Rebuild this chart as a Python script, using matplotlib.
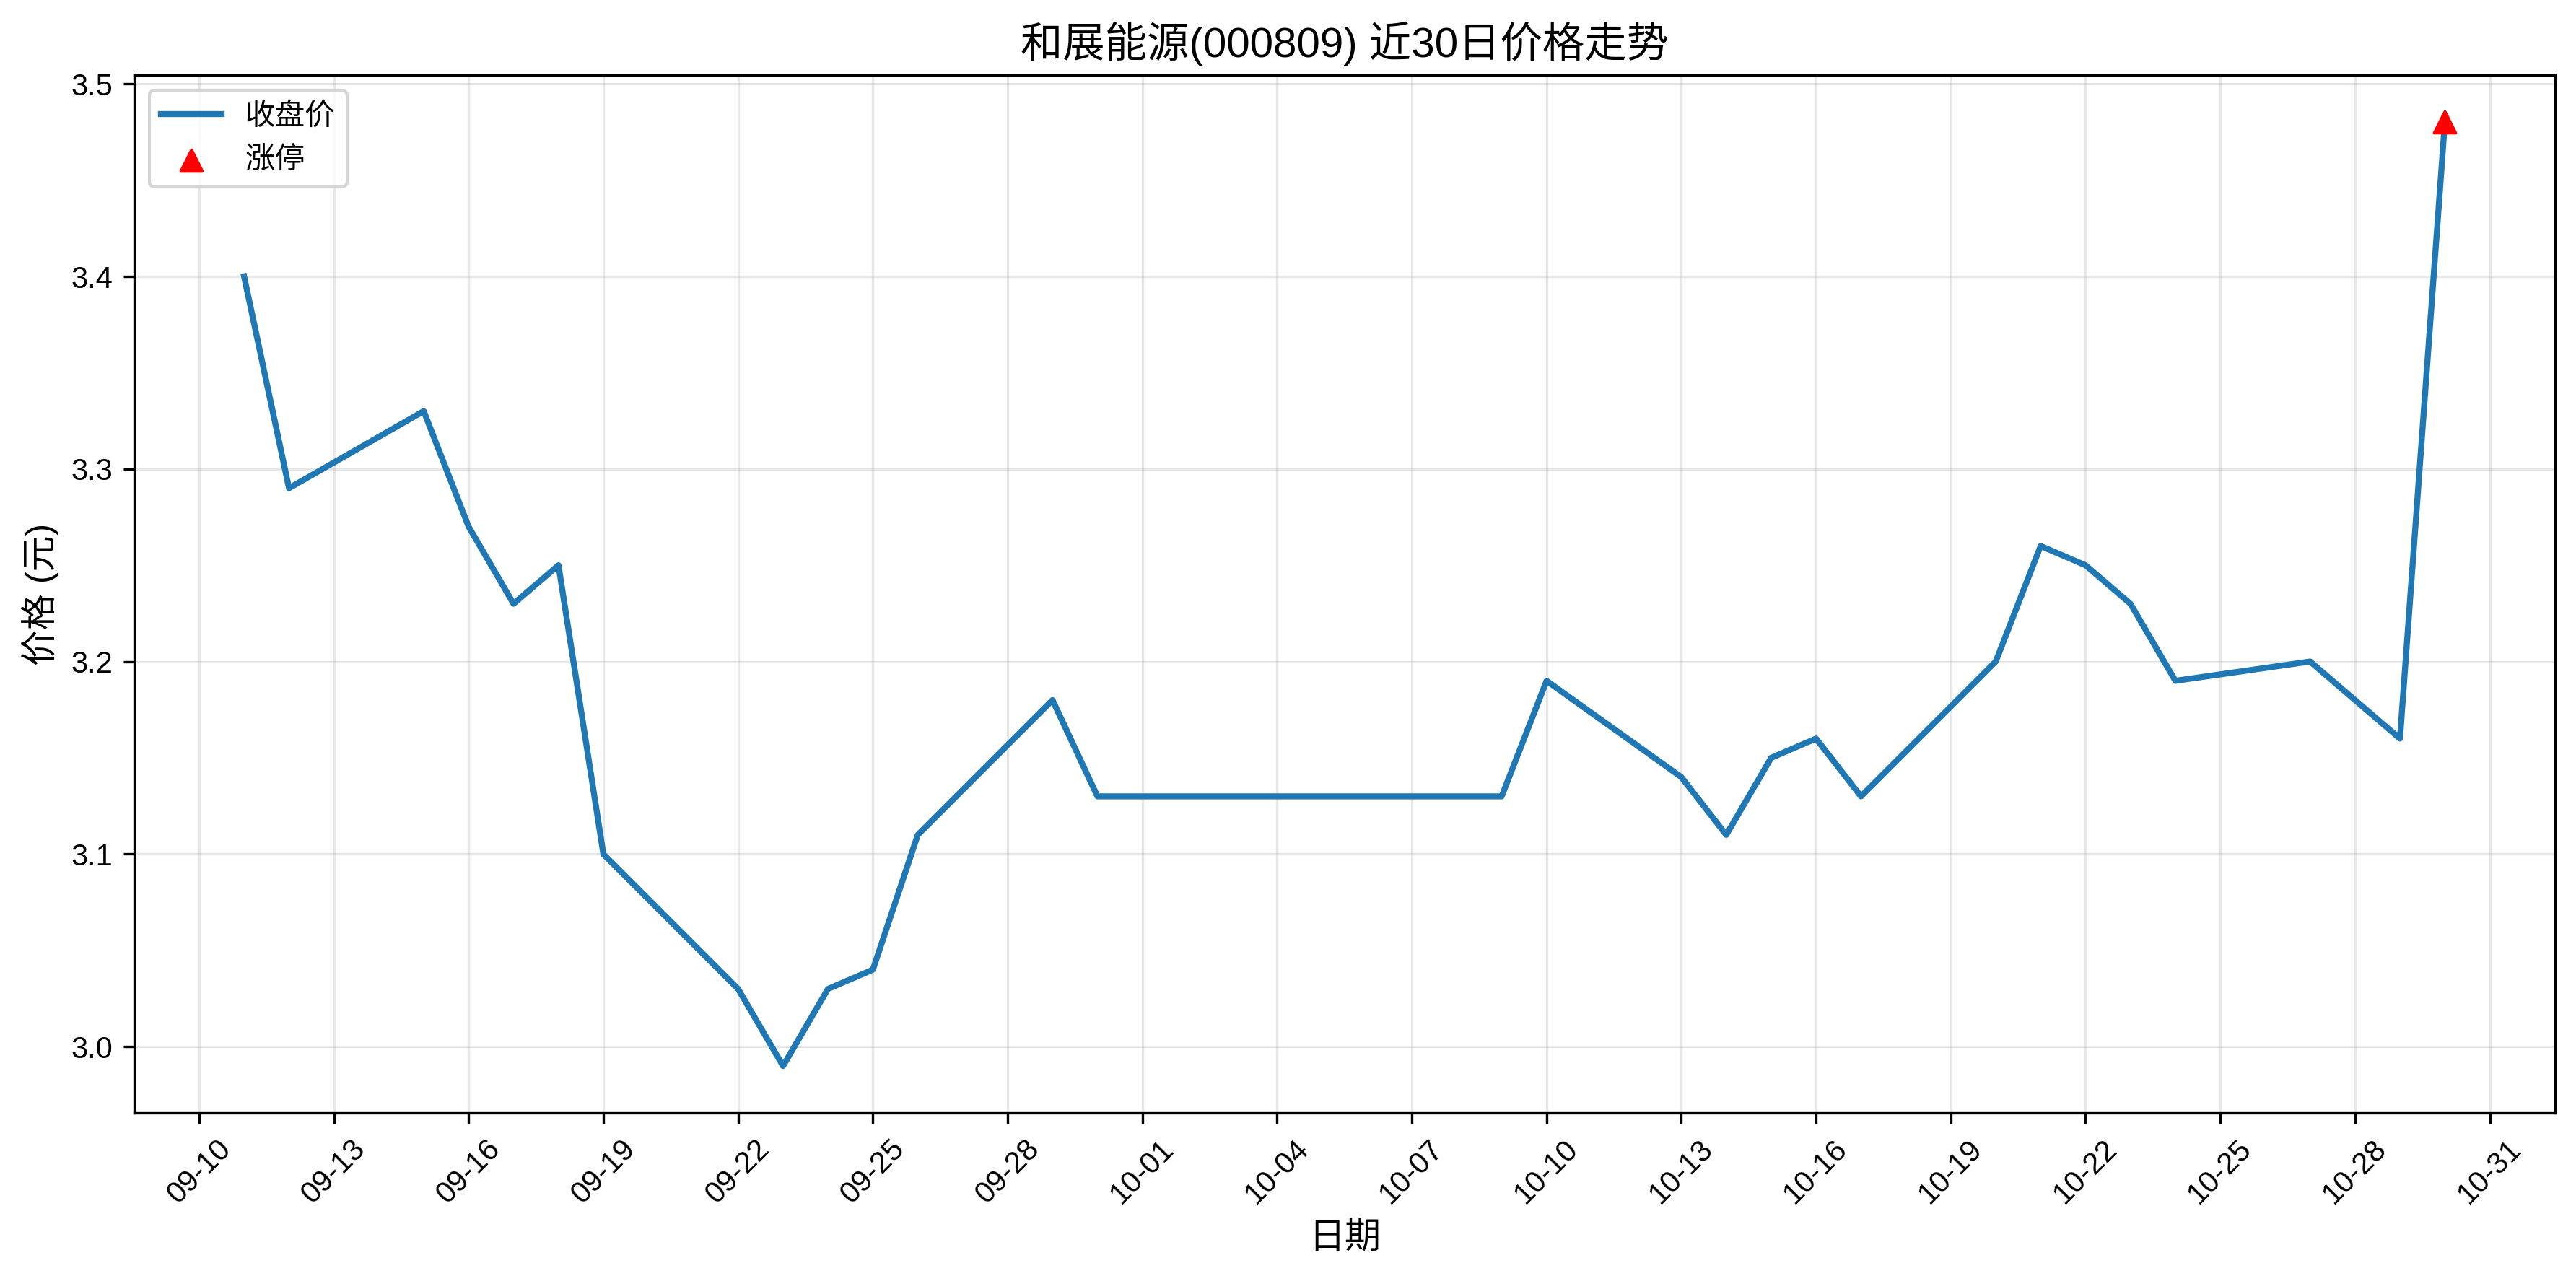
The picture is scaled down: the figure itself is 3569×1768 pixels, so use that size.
import pandas as pd
import matplotlib
matplotlib.use('Agg')
import matplotlib.pyplot as plt
import matplotlib.dates as mdates

plt.rcParams['font.family'] = ['Liberation Sans', 'Noto Sans CJK SC']
plt.rcParams['axes.unicode_minus'] = False

# closing prices, last 30 trading days
dates = ['2025-09-11', '2025-09-12', '2025-09-15', '2025-09-16', '2025-09-17',
         '2025-09-18', '2025-09-19', '2025-09-22', '2025-09-23', '2025-09-24',
         '2025-09-25', '2025-09-26', '2025-09-29', '2025-09-30', '2025-10-09',
         '2025-10-10', '2025-10-13', '2025-10-14', '2025-10-15', '2025-10-16',
         '2025-10-17', '2025-10-20', '2025-10-21', '2025-10-22', '2025-10-23',
         '2025-10-24', '2025-10-27', '2025-10-28', '2025-10-29', '2025-10-30']
close = [3.40, 3.29, 3.33, 3.27, 3.23,
         3.25, 3.10, 3.03, 2.99, 3.03,
         3.04, 3.11, 3.18, 3.13, 3.13,
         3.19, 3.14, 3.11, 3.15, 3.16,
         3.13, 3.20, 3.26, 3.25, 3.23,
         3.19, 3.20, 3.18, 3.16, 3.48]
limit_up_dates = ['2025-10-30']
limit_up_prices = [3.48]

x = pd.to_datetime(dates)
fig, ax = plt.subplots(figsize=(12, 6))
ax.plot(x, close, color='#1f77b4', linewidth=2, label='收盘价')
ax.scatter(pd.to_datetime(limit_up_dates), limit_up_prices, color='red', marker='^',
           s=50, zorder=5, label='涨停')

ax.set_title('和展能源(000809) 近30日价格走势', fontsize=14)
ax.set_xlabel('日期', fontsize=12)
ax.set_ylabel('价格 (元)', fontsize=12)
ax.grid(True, alpha=0.3)
ax.legend(loc='upper left')
ax.xaxis.set_major_locator(mdates.DayLocator(interval=3))
ax.xaxis.set_major_formatter(mdates.DateFormatter('%m-%d'))
plt.setp(ax.get_xticklabels(), rotation=45)

plt.tight_layout()
plt.savefig('out.png', dpi=300, bbox_inches='tight')
